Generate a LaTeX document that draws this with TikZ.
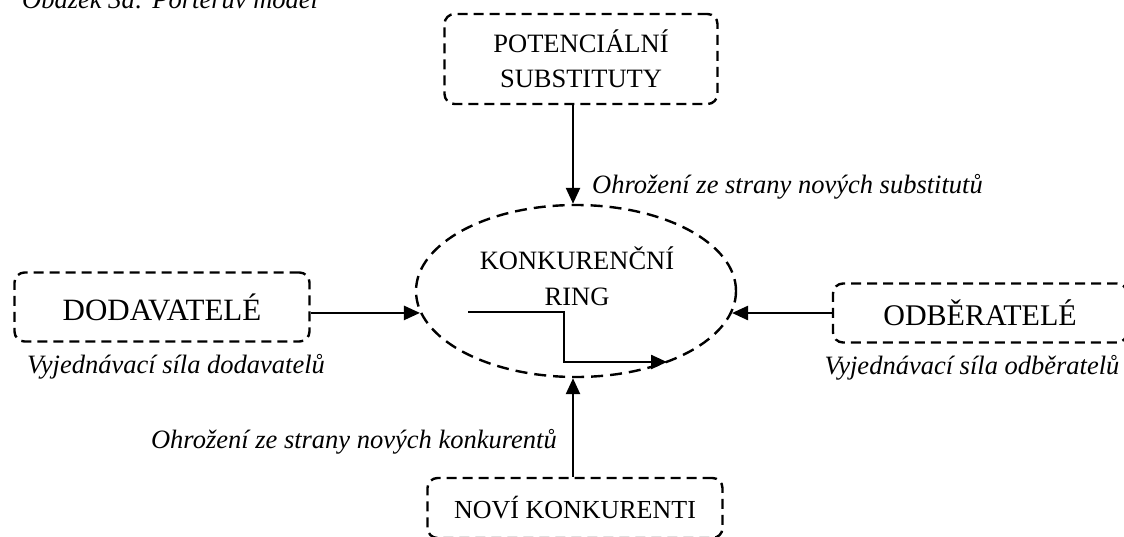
\documentclass[tikz,border=0pt]{standalone}
\usepackage{fontspec}
\setmainfont{Liberation Serif}
\usetikzlibrary{arrows.meta,shapes.geometric}

\begin{document}
\begin{tikzpicture}[x=1pt, y=-1pt,
		box/.style = {draw, line width=2.4pt, dash pattern=on 10pt off 6pt, rounded corners=10pt, inner sep=0pt, align=center},
		lbl/.style = {font=\fontsize{26.5}{30}\selectfont\itshape, inner sep=0pt},
		arr/.style = {line width=2.4pt, -{Triangle[length=16pt,width=14pt]}}]
		\useasboundingbox (0,0) rectangle (1124,536);
		\node [lbl, anchor=base west] (title) at (22,8) {Obázek 3a: Porterův model};
		% boxes
		\node [box, minimum width=273pt, minimum height=90pt, font=\fontsize{26.5}{35}\selectfont] (subst) at (581,59) {POTENCIÁLNÍ\\SUBSTITUTY};
		\node [box, minimum width=295pt, minimum height=69pt, font=\fontsize{31}{34}\selectfont] (dodav) at (162,307) {DODAVATELÉ};
		\node [box, minimum width=294pt, minimum height=59pt, font=\fontsize{30}{33}\selectfont] (odber) at (980,313) {ODBĚRATELÉ};
		\node [box, minimum width=295pt, minimum height=60pt, font=\fontsize{26}{30}\selectfont] (novi) at (575,508) {NOVÍ KONKURENTI};
		% ring
		\node [draw, ellipse, line width=2.4pt, dash pattern=on 12pt off 7pt, minimum width=320pt, minimum height=172pt, inner sep=0pt] (ring) at (576,291) {};
		\node [font=\fontsize{26.5}{36}\selectfont, align=center] (ringtext) at (577,276) {KONKURENČNÍ\\RING};
		\coordinate (stepin) at (468,312);
		\coordinate (stepout) at (667,362);
		\draw [arr] (stepin) -- ++(96,0) |- (stepout);
		% forces
		\draw [arr] (subst.south -| 573,0) -- (ring.north -| 573,0);
		\draw [arr] (dodav.east |- ring.188) -- (ring.188);
		\draw [arr] (odber.west) -- (ring.352 |- odber.west);
		\draw [arr] (novi.north -| 573,0) -- (ring.south -| 573,0);
		% labels
		\node [lbl, anchor=base west] (lsubst) at (592,193) {Ohrožení ze strany nových substitutů};
		\node [lbl, anchor=base] (ldodav) at (176,373) {Vyjednávací síla dodavatelů};
		\node [lbl, anchor=base] (lodber) at (972,374) {Vyjednávací síla odběratelů};
		\node [lbl, anchor=base east] (lnovi) at (557,448) {Ohrožení ze strany nových konkurentů};
		%\draw (ring.center) circle (2pt);
	\end{tikzpicture}
\end{document}
